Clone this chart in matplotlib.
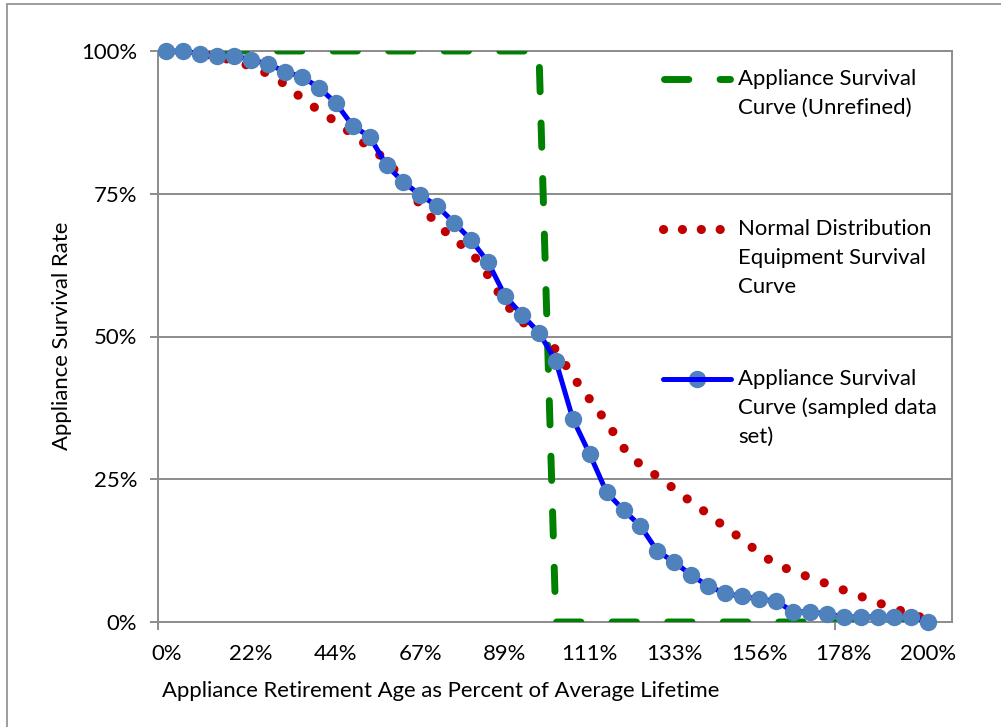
import matplotlib
matplotlib.use("Agg")
import matplotlib.pyplot as plt
from matplotlib.lines import Line2D
from matplotlib.patches import Rectangle
import numpy as np

# sampled ages (category index 0..45, labelled every 5th as percent of lifetime)
x_labels = ['0%', '22%', '44%', '67%', '89%', '111%', '133%', '156%', '178%', '200%']

# Appliance Survival Curve (sampled data set), percent
sampled = [100, 100, 99.5, 99.1, 99.1, 98.5, 97.7, 96.4, 95.5, 93.6,
           90.9, 86.9, 85.0, 80.0, 77.0, 74.8, 72.8, 69.9, 66.9, 63.0,
           57.1, 53.8, 50.7, 45.7, 35.6, 29.4, 22.7, 19.6, 16.8, 12.4,
           10.5, 8.2, 6.3, 5.0, 4.5, 4.0, 3.7, 1.8, 1.8, 1.4,
           0.9, 0.9, 0.9, 0.9, 0.9, 0.0]

# Normal Distribution Equipment Survival Curve, percent
normal = [100, 99.8, 99.5, 99.0, 98.3, 97.3, 96.0, 94.2, 91.7, 89.6,
          87.6, 85.4, 83.1, 80.9, 77.2, 73.0, 69.6, 67.0, 64.8, 60.7,
          55.8, 52.6, 50.5, 47.7, 43.0, 39.0, 35.0, 30.5, 27.5, 25.5,
          23.3, 21.0, 18.9, 16.6, 14.5, 12.1, 10.1, 8.9, 7.8, 6.7,
          5.6, 4.5, 3.4, 2.4, 1.3, 0.5]

# Appliance Survival Curve (Unrefined), percent
unrefined = [100] * 23 + [0] * 23

W, H = 1001, 727
FONT = 'Lato'
FS = 15.9
GRAY = '#8c8c8c'
GREEN, RED, BLUE, MARK = '#008000', '#c00000', '#0000ff', '#4f81bd'

GREEN_LS = (0, (3.5, 4.5))
RED_LS = (0, (0.01, 2.2))


def fx(px):
    return px / W


def fy(py):
    return 1 - py / H


plt.rcParams['font.family'] = [FONT, 'DejaVu Sans']

fig = plt.figure(figsize=(W / 100, H / 100), dpi=100)
fig.patches.append(Rectangle((fx(7), -0.1), 1.2, fy(4) + 0.1, transform=fig.transFigure,
                             fill=False, edgecolor=GRAY, linewidth=1.2))

ax = fig.add_axes([fx(158), fy(622), fx(952) - fx(158), fy(51) - fy(622)])

x = np.arange(len(sampled))
y_s = np.array(sampled) / 100
y_n = np.array(normal) / 100
y_u = np.array(unrefined) / 100

ax.plot(x, y_u, color=GREEN, linewidth=5, linestyle=GREEN_LS,
        dash_capstyle='round', zorder=3)
ax.plot(x, y_n, color=RED, linewidth=6.6, linestyle=RED_LS,
        dash_capstyle='round', zorder=4)
ax.plot(x, y_s, color=BLUE, linewidth=3.6, marker='o', markersize=11.5,
        markerfacecolor=MARK, markeredgecolor=MARK, solid_capstyle='round',
        zorder=5, clip_on=False)

ax.set_xlim(-0.5, 46.4)
ax.set_ylim(0, 1)

ax.set_xticks(x[::5])
ax.set_xticklabels(x_labels, fontsize=FS)
ax.set_xticks([-0.5, 39.5], minor=True)
ax.tick_params(axis='x', which='major', length=0, pad=16)
ax.tick_params(axis='x', which='minor', length=6, width=1.4, color=GRAY)

ax.set_yticks([0, 0.25, 0.5, 0.75, 1.0])
ax.set_yticklabels(['0%', '25%', '50%', '75%', '100%'], fontsize=FS)
ax.tick_params(axis='y', length=6, width=1.4, color=GRAY, pad=9)

ax.grid(axis='y', color=GRAY, linewidth=1.4)
ax.set_axisbelow(True)
for sp in ax.spines.values():
    sp.set_color(GRAY)
    sp.set_linewidth(1.4)

fig.text(fx(441), fy(691), 'Appliance Retirement Age as Percent of Average Lifetime',
         fontsize=FS, ha='center', va='center')
fig.text(fx(62), fy(336), 'Appliance Survival Rate', fontsize=FS,
         ha='center', va='center', rotation=90)

# legend, drawn by hand so the symbol sits on the first text line
legend = [
    (79, ['Appliance Survival', 'Curve (Unrefined)'], 'green'),
    (229, ['Normal Distribution', 'Equipment Survival', 'Curve'], 'red'),
    (379, ['Appliance Survival', 'Curve (sampled data', 'set)'], 'blue'),
]
for y0, lines, kind in legend:
    if kind == 'green':
        h = Line2D([fx(663.5), fx(729.5)], [fy(y0), fy(y0)], color=GREEN, linewidth=5,
                   linestyle=GREEN_LS, dash_capstyle='round', transform=fig.transFigure)
    elif kind == 'red':
        h = Line2D([fx(663), fx(722)], [fy(y0), fy(y0)], color=RED, linewidth=6.6,
                   linestyle=(0, (0.01, 2.05)), dash_capstyle='round',
                   transform=fig.transFigure)
    else:
        h = Line2D([fx(663), fx(731)], [fy(y0), fy(y0)], color=BLUE, linewidth=3.6,
                   solid_capstyle='round', transform=fig.transFigure)
        fig.add_artist(Line2D([fx(697)], [fy(y0)], marker='o', markersize=11.5,
                              markerfacecolor=MARK, markeredgecolor=MARK,
                              transform=fig.transFigure))
    fig.add_artist(h)
    for k, t in enumerate(lines):
        fig.text(fx(738), fy(y0 + 29 * k), t, fontsize=FS, ha='left', va='center')

fig.savefig('out.png', dpi=100)
